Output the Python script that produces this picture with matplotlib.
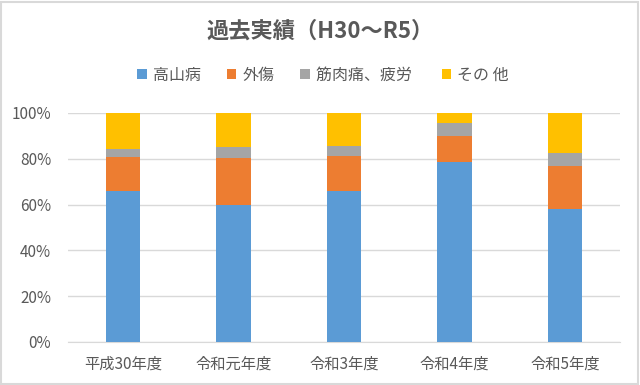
import numpy as np
import matplotlib
matplotlib.use("Agg")
import matplotlib.pyplot as plt
from matplotlib.ticker import FuncFormatter
from matplotlib.patches import Rectangle

plt.rcParams['font.family'] = ['Noto Sans CJK JP', 'DejaVu Sans']

years = ['平成30年度', '令和元年度', '令和3年度', '令和4年度', '令和5年度']
series_names = ['高山病', '外傷', '筋肉痛、疲労 ', 'その 他']
kozanbyo = [66.1, 59.7, 65.8, 78.5, 57.9]
gaisho = [14.8, 20.6, 15.6, 11.6, 19.1]
kinniku = [3.4, 4.7, 4.1, 5.4, 5.7]
sonota = [15.7, 15.0, 14.5, 4.5, 17.3]
colors = ['#5B9BD5', '#ED7D31', '#A5A5A5', '#FFC000']

txt = '#595959'
fig = plt.figure(figsize=(6.4, 3.85), dpi=100)
ax = fig.add_axes([0.106, 0.1117, 0.863, 0.5948])

x = np.arange(len(years))
bottom = np.zeros(len(years))
for vals, name, c in zip([kozanbyo, gaisho, kinniku, sonota], series_names, colors):
    ax.bar(x, vals, 0.31, bottom=bottom, color=c, label=name, linewidth=0, zorder=3)
    bottom += np.array(vals)

ax.set_xlim(-0.5, len(years) - 0.5)
ax.set_ylim(0, 100)
ax.set_yticks(range(0, 101, 20))
ax.yaxis.set_major_formatter(FuncFormatter(lambda v, p: '%d%%' % v))
ax.set_xticks(x)
ax.set_xticklabels(years)
ax.grid(axis='y', color='#d9d9d9', linewidth=1, zorder=0)
for s in ['top', 'right', 'left']:
    ax.spines[s].set_visible(False)
ax.spines['bottom'].set_color('#d9d9d9')
ax.tick_params(length=0, colors=txt, labelsize=11)
ax.tick_params(axis='x', pad=10)
ax.tick_params(axis='y', pad=12)

fig.text(0.5, 0.918, '過去実績（H30～R5）', ha='center', va='center',
         fontsize=16, fontweight='bold', color=txt)
leg = fig.legend(loc='center', bbox_to_anchor=(0.505, 0.805), ncol=4, frameon=False,
                 fontsize=11.5, handlelength=0.6, handleheight=0.6, handletextpad=0.4,
                 columnspacing=1.6, labelcolor=txt)

fig.patches.append(Rectangle((0.002, 0.003), 0.995, 0.993, transform=fig.transFigure,
                             fill=False, edgecolor='#d9d9d9', linewidth=1.5))

fig.savefig('out.png', dpi=100)
